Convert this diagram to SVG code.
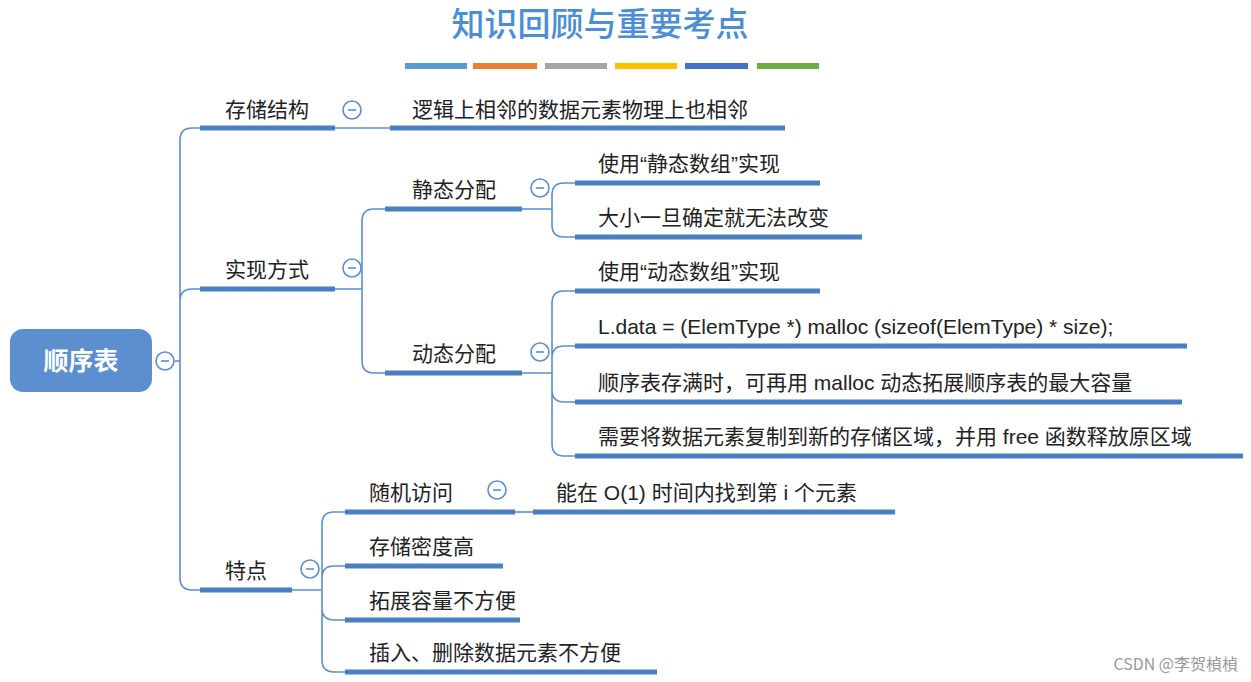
<svg xmlns="http://www.w3.org/2000/svg" width="1251" height="682" viewBox="0 0 1251 682">
<style>
.t{font-family:"Liberation Sans","Noto Sans CJK SC",sans-serif;font-size:21px;fill:#222}
.bar{stroke:#4a7fc1;stroke-width:5;fill:none}
.ln{stroke:#5b8fd0;stroke-width:1.6;fill:none}
.btn{fill:#fff;stroke:#5b8fd0;stroke-width:1.6}
.btm{stroke:#5b8fd0;stroke-width:1.6}
</style>
<rect width="1251" height="682" fill="#fff"/>
<text x="600" y="36" text-anchor="middle" font-family="Noto Sans CJK SC,sans-serif" font-size="33" font-weight="500" fill="#4a8fd6">知识回顾与重要考点</text>
<g>
<rect x="405" y="63" width="62" height="6" fill="#5b9bd5"/>
<rect x="473" y="63" width="64" height="6" fill="#ed7d31"/>
<rect x="545" y="63" width="62" height="6" fill="#a5a5a5"/>
<rect x="615" y="63" width="62" height="6" fill="#ffc000"/>
<rect x="685" y="63" width="63" height="6" fill="#4472c4"/>
<rect x="757" y="63" width="62" height="6" fill="#70ad47"/>
</g>
<g id="connectors">
<path class="ln" d="M175,361 H180 M180,361 V140 Q180,128 192,128 H200 M180,361 V301 Q180,289 192,289 H200 M180,361 V578 Q180,590 192,590 H200"/>
<path class="ln" d="M335,128 H390"/>
<path class="ln" d="M335,289 H362 M362,289 V221 Q362,209 374,209 H385 M362,289 V361 Q362,373 374,373 H385"/>
<path class="ln" d="M522,209 H552 M552,209 V195 Q552,183 564,183 H575 M552,209 V225 Q552,237 564,237 H575"/>
<path class="ln" d="M522,373 H552 M552,373 V303 Q552,291 564,291 H575 M552,373 V358 Q552,346 564,346 H575 M552,373 V390 Q552,402 564,402 H575 M552,373 V444 Q552,456 564,456 H575"/>
<path class="ln" d="M292,590 H322 M322,590 V524 Q322,512 334,512 H345 M322,590 V578 Q322,566 334,566 H345 M322,590 V608 Q322,620 334,620 H345 M322,590 V660 Q322,672 334,672 H345"/>
<path class="ln" d="M515,512 H533"/>
</g>
<g id="root">
<rect x="10" y="329" width="142" height="63" rx="13" fill="#5b8fd0"/>
<text x="81" y="370" text-anchor="middle" font-family="Noto Sans CJK SC,sans-serif" font-size="25" font-weight="bold" fill="#fff">顺序表</text>
<circle class="btn" cx="165" cy="361" r="9"/><line class="btm" x1="161" y1="361" x2="169" y2="361"/>
</g>
<g id="n-storage"><path class="bar" d="M200,128 H335"/><text class="t" x="225" y="117">存储结构</text>
<circle class="btn" cx="352" cy="110" r="9"/><line class="btm" x1="348" y1="110" x2="356" y2="110"/></g>
<g id="n-storage-1"><path class="bar" d="M390,128 H785"/><text class="t" x="412" y="117">逻辑上相邻的数据元素物理上也相邻</text></g>
<g id="n-impl"><path class="bar" d="M200,289 H335"/><text class="t" x="225" y="277">实现方式</text>
<circle class="btn" cx="352" cy="268" r="9"/><line class="btm" x1="348" y1="268" x2="356" y2="268"/></g>
<g id="n-static"><path class="bar" d="M385,209 H522"/><text class="t" x="412" y="197">静态分配</text>
<circle class="btn" cx="540" cy="188" r="9"/><line class="btm" x1="536" y1="188" x2="544" y2="188"/></g>
<g id="n-s1"><path class="bar" d="M575,183 H820"/><text class="t" x="598" y="171">使用“静态数组”实现</text></g>
<g id="n-s2"><path class="bar" d="M575,237 H862"/><text class="t" x="598" y="225">大小一旦确定就无法改变</text></g>
<g id="n-dynamic"><path class="bar" d="M385,373 H522"/><text class="t" x="412" y="361">动态分配</text>
<circle class="btn" cx="540" cy="352" r="9"/><line class="btm" x1="536" y1="352" x2="544" y2="352"/></g>
<g id="n-d1"><path class="bar" d="M575,291 H820"/><text class="t" x="598" y="279">使用“动态数组”实现</text></g>
<g id="n-d2"><path class="bar" d="M575,346 H1187"/><text class="t" x="598" y="334">L.data = (ElemType *) malloc (sizeof(ElemType) * size);</text></g>
<g id="n-d3"><path class="bar" d="M575,402 H1182"/><text class="t" x="598" y="390">顺序表存满时，可再用 malloc 动态拓展顺序表的最大容量</text></g>
<g id="n-d4"><path class="bar" d="M575,456 H1243"/><text class="t" x="598" y="444">需要将数据元素复制到新的存储区域，并用 free 函数释放原区域</text></g>
<g id="n-feat"><path class="bar" d="M200,590 H292"/><text class="t" x="225" y="578">特点</text>
<circle class="btn" cx="310" cy="569" r="9"/><line class="btm" x1="306" y1="569" x2="314" y2="569"/></g>
<g id="n-f1"><path class="bar" d="M345,512 H515"/><text class="t" x="369" y="500">随机访问</text>
<circle class="btn" cx="497" cy="490" r="9"/><line class="btm" x1="493" y1="490" x2="501" y2="490"/></g>
<g id="n-f1a"><path class="bar" d="M533,512 H895"/><text class="t" x="556" y="500">能在 O(1) 时间内找到第 i 个元素</text></g>
<g id="n-f2"><path class="bar" d="M345,566 H503"/><text class="t" x="369" y="554">存储密度高</text></g>
<g id="n-f3"><path class="bar" d="M345,620 H520"/><text class="t" x="369" y="608">拓展容量不方便</text></g>
<g id="n-f4"><path class="bar" d="M345,672 H657"/><text class="t" x="369" y="660">插入、删除数据元素不方便</text></g>
<text x="1238" y="670" text-anchor="end" font-family="Noto Sans CJK SC,sans-serif" font-size="16" fill="#999">CSDN @李贺楨楨</text>
</svg>
